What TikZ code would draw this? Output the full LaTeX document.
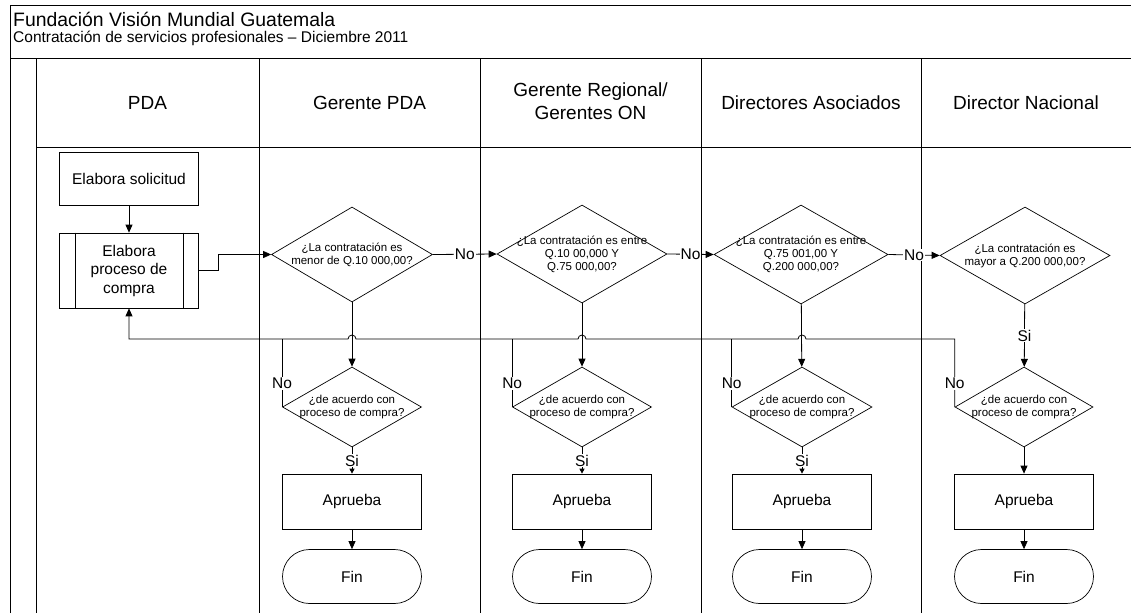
\documentclass[tikz,border=0pt]{standalone}
\usepackage{fontspec}
\setmainfont{Liberation Sans}
\usetikzlibrary{shapes.geometric,arrows.meta}

\tikzset{
  frame/.style={line width=0.9pt},
  conn/.style={line width=0.8pt},
  arr/.style={conn, -{Triangle[length=8pt,width=7pt]}},
  arrs/.style={conn, -{Triangle[length=5pt,width=5pt]}},
  hdr/.style={align=center, font=\fontsize{19}{23}\selectfont},
  procbox/.style={draw, line width=0.7pt, minimum width=139pt, minimum height=55pt,
    inner sep=0pt, align=center, font=\fontsize{15.5}{18.5}\selectfont},
  termbox/.style={procbox, rounded corners=27pt, minimum height=54pt},
  decision/.style={draw, diamond, line width=0.7pt, inner sep=0pt},
  dtext/.style={align=center, inner sep=0pt, font=\fontsize{11.5}{13}\selectfont},
  lbl/.style={fill=white, inner sep=1pt, font=\fontsize{15.5}{18}\selectfont},
}

\begin{document}
\begin{tikzpicture}[x=1pt, y=1pt, yscale=-1]
\useasboundingbox (0,0) rectangle (1131,613);

% frame: title band, header row, lanes
\draw[frame] (10,613) -- (10,5) -- (1131,5);
\draw[frame] (10,58) -- (1131,58);
\draw[frame] (36,58) -- (36,613);
\draw[frame] (36,147) -- (1131,147);
\foreach \lx in {259,480,701,921} \draw[frame] (\lx,58) -- (\lx,613);

\node[anchor=base west, inner sep=0pt, font=\fontsize{19.4}{22}\selectfont] (title) at (13,27) {Fundación Visión Mundial Guatemala};
\node[anchor=base west, inner sep=0pt, font=\fontsize{15.5}{17}\selectfont] (subtitle) at (13,42) {Contratación de servicios profesionales – Diciembre 2011};

% lane headers
\node[hdr] (h1) at (147.5,103) {PDA};
\node[hdr] (h2) at (369.5,103) {Gerente PDA};
\node[hdr] (h3) at (590.5,101) {Gerente Regional/\\Gerentes ON};
\node[hdr] (h4) at (811,103) {Directores Asociados};
\node[hdr] (h5) at (1026,103) {Director Nacional};

% PDA lane
\node[procbox, minimum height=53pt] (sol) at (129,178.5) {Elabora solicitud};
\node[procbox, minimum height=75pt] (proc) at (129,270.5) {Elabora\\proceso de\\compra};
\draw[line width=0.7pt] ([xshift=16pt]proc.north west) -- ([xshift=16pt]proc.south west);
\draw[line width=0.7pt] ([xshift=-16pt]proc.north east) -- ([xshift=-16pt]proc.south east);

% amount decisions
\node[decision, minimum width=161pt, minimum height=95pt,
  label={[dtext]center:{¿La contratación es\\menor de Q.10 000,00?}}] (d1) at (352,254.5) {};
\node[decision, minimum width=170pt, minimum height=98pt,
  label={[dtext]center:{¿La contratación es entre\\Q.10 00,000 Y\\Q.75 000,00?}}] (d2) at (582,254) {};
\node[decision, minimum width=174pt, minimum height=99pt,
  label={[dtext]center:{¿La contratación es entre\\Q.75 001,00 Y\\Q.200 000,00?}}] (d3) at (801,254.5) {};
\node[decision, minimum width=170pt, minimum height=97pt,
  label={[dtext]center:{¿La contratación es\\mayor a Q.200 000,00?}}] (d4) at (1025,255.5) {};

% agreement decisions
\node[decision, minimum width=139pt, minimum height=80pt,
  label={[dtext]center:{¿de acuerdo con\\proceso de compra?}}] (qa) at (352,407) {};
\node[decision, minimum width=139pt, minimum height=80pt,
  label={[dtext]center:{¿de acuerdo con\\proceso de compra?}}] (qb) at (582,407) {};
\node[decision, minimum width=140pt, minimum height=80pt,
  label={[dtext]center:{¿de acuerdo con\\proceso de compra?}}] (qc) at (802,407) {};
\node[decision, minimum width=138pt, minimum height=80pt,
  label={[dtext]center:{¿de acuerdo con\\proceso de compra?}}] (qd) at (1024,407) {};

% approvals and ends
\foreach \n/\cx in {a/352,b/582,c/802,d/1024}{
  \node[procbox] (ap\n) at (\cx,501.5) {Aprueba};
  \node[termbox] (fin\n) at (\cx,576.5) {Fin};
  \draw[arr] (ap\n) -- (fin\n);
}

% return line level
\coordinate (ret) at (0,339);

% main flow
\draw[arr] (sol) -- (proc);
\draw[arr] (proc.east) -- ++(20,0) |- (d1.west);
\draw[arr] (d1.east) -- node[lbl]{No} (d2.west);
\draw[arr] (d2.east) -- node[lbl]{No} (d3.west);
\draw[arr] (d3.east) -- node[lbl]{No} (d4.west);

\draw[arr] (d1) -- (qa);
\draw[arr] (d2) -- (qb);
\draw[arr] (d3) -- (qc);
\draw[arr] (d4) -- node[lbl]{Si} (qd);

\draw[arrs] (qa) -- node[lbl]{Si} (apa);
\draw[arrs] (qb) -- node[lbl]{Si} (apb);
\draw[arrs] (qc) -- node[lbl]{Si} (apc);
\draw[arr] (qd) -- (apd);

% rejections back to the purchase process
\draw[arr] (qd.west) -- node[lbl, pos=0.35]{No} (qd.west |- ret)
  -- ([xshift=4pt]qc.north |- ret) arc (0:-180:4pt)
  -- ([xshift=4pt]qb.north |- ret) arc (0:-180:4pt)
  -- ([xshift=4pt]qa.north |- ret) arc (0:-180:4pt)
  -- (proc.south |- ret) -- (proc.south);
\draw[conn] (qa.west) -- node[lbl, pos=0.35]{No} (qa.west |- ret);
\draw[conn] (qb.west) -- node[lbl, pos=0.35]{No} (qb.west |- ret);
\draw[conn] (qc.west) -- node[lbl, pos=0.35]{No} (qc.west |- ret);
\end{tikzpicture}
\end{document}
